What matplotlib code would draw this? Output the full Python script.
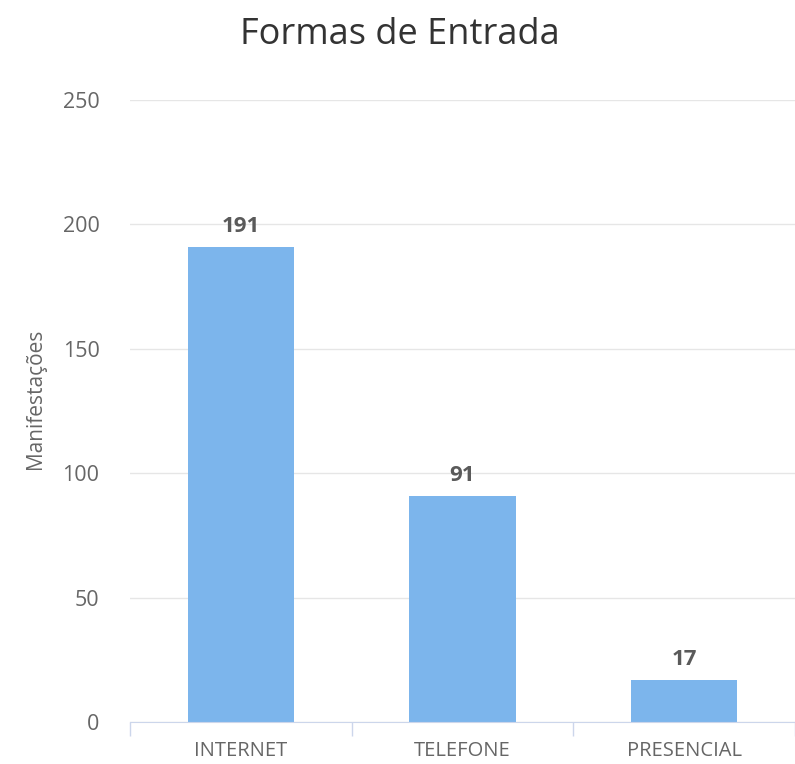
import matplotlib
matplotlib.use('Agg')
import matplotlib.pyplot as plt
import numpy as np

categories = ['INTERNET', 'TELEFONE', 'PRESENCIAL']
values = [191, 91, 17]
yticks = [0, 50, 100, 150, 200, 250]

plt.rcParams['font.family'] = ['Open Sans', 'DejaVu Sans']

fig = plt.figure(figsize=(7.95, 7.64), dpi=100, facecolor='white')
ax = fig.add_axes([130 / 795, 42 / 764, 665 / 795, 622 / 764])

x = np.arange(len(categories))
ax.bar(x, values, width=0.48, color='#7cb5ec', zorder=2)
for xi, v in zip(x, values):
    ax.annotate(str(v), (xi, v), xytext=(0, 7), textcoords='offset points',
                ha='center', va='bottom', fontsize=16, fontweight='bold',
                color='#5a5a5a', zorder=3)

ax.set_xlim(-0.5, 2.5)
ax.set_ylim(0, 250)
ax.set_yticks(yticks)
ax.yaxis.grid(True, color='#e6e6e6', linewidth=1, zorder=0)
ax.tick_params(axis='y', length=0, pad=22, labelsize=15.5, labelcolor='#666666')

ax.set_xticks(x)
ax.set_xticklabels(categories)
ax.set_xticks([-0.5, 0.5, 1.5, 2.5], minor=True)
ax.tick_params(axis='x', which='major', length=0, pad=14, labelsize=14.5,
               labelcolor='#666666')
ax.tick_params(axis='x', which='minor', length=10, color='#ccd6eb', width=1)

for s in ['top', 'right', 'left']:
    ax.spines[s].set_visible(False)
ax.spines['bottom'].set_color('#ccd6eb')

ax.set_ylabel('Manifestações', fontsize=15, color='#666666', labelpad=12)
ax.yaxis.label.set_y(0.52)

fig.text(400 / 795, 1 - 35 / 764, 'Formas de Entrada', ha='center', va='center',
         fontsize=26, color='#333333')

fig.savefig('out.png', dpi=100, facecolor='white')
